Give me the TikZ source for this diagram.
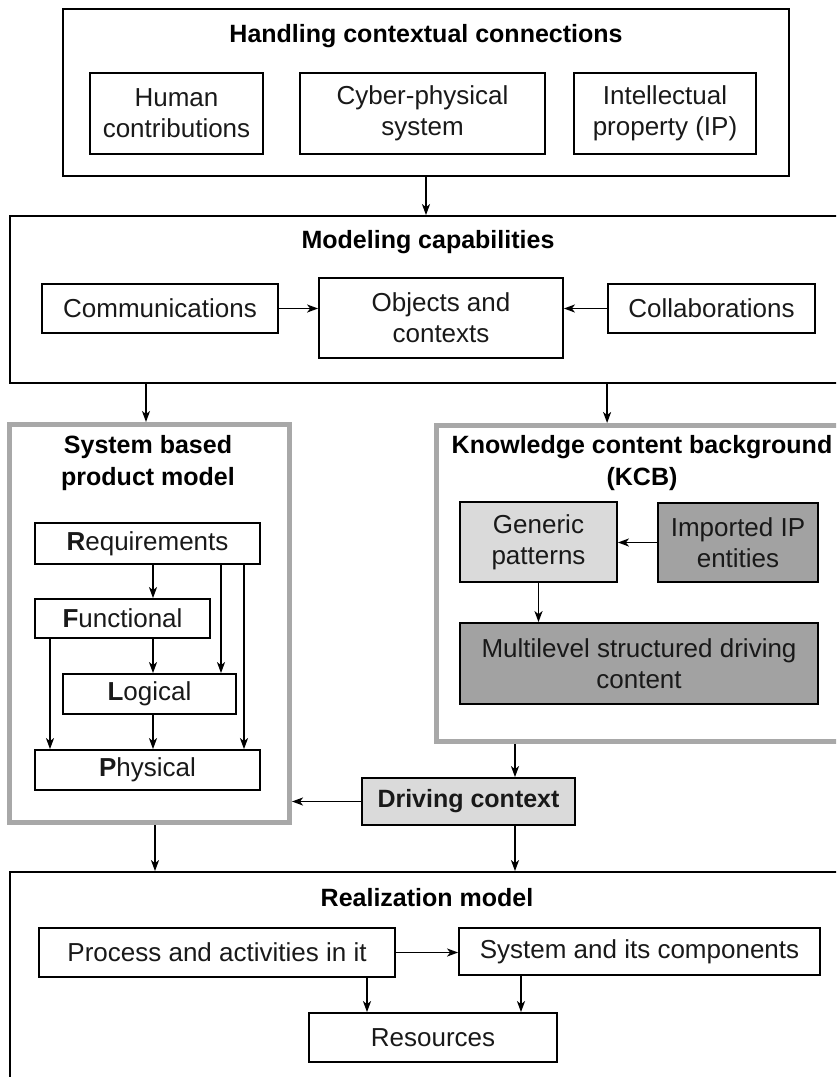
\documentclass[tikz,border=0pt]{standalone}
\usepackage{fontspec}
\setmainfont{Liberation Sans}
\usetikzlibrary{arrows.meta}
\definecolor{frame}{RGB}{168,168,168}
\definecolor{lightfill}{RGB}{218,218,218}
\definecolor{darkfill}{RGB}{162,162,162}
\definecolor{ink}{RGB}{25,25,25}
\newcommand{\boxfont}{\fontsize{26}{31}\selectfont}
\newcommand{\headfont}{\fontsize{25}{32}\selectfont\bfseries}
\begin{document}
\begin{tikzpicture}[x=1pt,y=-1pt,
  box/.style={draw,line width=1.8pt,inner sep=0pt,align=center,font=\boxfont,text=ink},
  group/.style={draw=frame,line width=5pt,inner sep=0pt},
  panel/.style={draw,line width=1.8pt,inner sep=0pt},
  head/.style={font=\headfont,align=center,anchor=base,inner sep=0pt},
  lightbox/.style={box,fill=lightfill},
  darkbox/.style={box,fill=darkfill},
  arr/.style={-{Stealth[length=11pt,width=8pt,inset=3pt]},line width=1.6pt}]
\useasboundingbox (0,0) rectangle (836,1077);
\clip (0,0) rectangle (836,1077);

% --- Handling contextual connections
\node[panel,minimum width=726pt,minimum height=167pt] (hcc) at (426,92.5) {};
\node[head] (hcctitle) at (426,42) {Handling contextual connections};
\node[box,minimum width=173pt,minimum height=81pt] (human) at (176.5,113.5) {Human\\contributions};
\node[box,minimum width=245pt,minimum height=81pt] (cps) at (422.5,113.5) {Cyber-physical\\system};
\node[box,minimum width=182pt,minimum height=81pt] (ipr) at (665,113.5) {Intellectual\\property (IP)};

% --- Modeling capabilities
\node[panel,minimum width=836pt,minimum height=167pt] (mod) at (428,299.5) {};
\node[head] (modtitle) at (428,248) {Modeling capabilities};
\node[box,minimum width=236pt,minimum height=49pt] (comm) at (160,308.5) {Communications};
\node[box,minimum width=244pt,minimum height=80pt] (obj) at (441,318) {Objects and\\contexts};
\node[box,minimum width=207pt,minimum height=49pt] (collab) at (711.5,308.5) {Collaborations};

% --- System based product model (title anchored on its last line)
\node[group,minimum width=280pt,minimum height=398pt] (sbpm) at (149.5,623.5) {};
\node[head] (sbpmtitle) at (148,485) {System based\\product model};
\node[box,minimum width=225pt,minimum height=41pt] (req) at (147.5,543.5) {\textbf{R}equirements};
\node[box,minimum width=175pt,minimum height=39pt] (func) at (122.5,618.5) {\textbf{F}unctional};
\node[box,minimum width=173pt,minimum height=40pt] (logic) at (149.5,694) {\textbf{L}ogical};
\node[box,minimum width=225pt,minimum height=40pt] (phys) at (147.5,770) {\textbf{P}hysical};

% --- Knowledge content background
\node[group,minimum width=411pt,minimum height=316pt] (kcb) at (642,583.5) {};
\node[head] (kcbtitle) at (642,485) {Knowledge content background\\(KCB)};
\node[lightbox,minimum width=157pt,minimum height=80pt] (gen) at (538.5,542) {Generic\\patterns};
\node[darkbox,minimum width=160pt,minimum height=79pt] (imp) at (738,542.5) {Imported IP\\entities};
\node[darkbox,minimum width=358pt,minimum height=81pt] (multi) at (639,663.5) {Multilevel structured driving\\content};

% --- Driving context
\node[lightbox,font=\headfont,minimum width=213pt,minimum height=47pt] (drv) at (468.5,801.5) {Driving context};

% --- Realization model
\node[panel,minimum width=834pt,minimum height=228pt] (real) at (427,986) {};
\node[head] (realtitle) at (427,906) {Realization model};
\node[box,minimum width=356pt,minimum height=49pt] (proc) at (217,952.5) {Process and activities in it};
\node[box,minimum width=361pt,minimum height=47pt] (sys) at (639.5,951.5) {System and its components};
\node[box,minimum width=248pt,minimum height=49pt] (res) at (433,1037.5) {Resources};

% connector columns
\coordinate (cA) at (153,0);
\coordinate (cB) at (221,0);
\coordinate (cC) at (244,0);
\coordinate (cD) at (50,0);
\coordinate (cE) at (515,0);
\coordinate (cF) at (155,0);
\coordinate (cG) at (146,0);
\coordinate (cH) at (367,0);
\coordinate (cI) at (521,0);

% connectors
\draw[arr] (hcc.south) -- (hcc.south |- mod.north);
\draw[arr] (comm.east) -- (obj.west |- comm.east);
\draw[arr] (collab.west) -- (obj.east |- collab.west);
\draw[arr] (mod.south -| cG) -- (sbpm.north -| cG);
\draw[arr] (mod.south -| collab.west) -- (kcb.north -| collab.west);

\draw[arr] (req.south -| cA) -- (func.north -| cA);
\draw[arr] (req.south -| cB) -- (logic.north -| cB);
\draw[arr] (req.south -| cC) -- (phys.north -| cC);
\draw[arr] (func.south -| cA) -- (logic.north -| cA);
\draw[arr] (func.south -| cD) -- (phys.north -| cD);
\draw[arr] (logic.south -| cA) -- (phys.north -| cA);

\draw[arr] (imp.west) -- (gen.east |- imp.west);
\draw[arr] (gen.south) -- (gen.south |- multi.north);

\draw[arr] (kcb.south -| cE) -- (drv.north -| cE);
\draw[arr] (drv.west) -- (sbpm.east |- drv.west);
\draw[arr] (sbpm.south -| cF) -- (real.north -| cF);
\draw[arr] (drv.south -| cE) -- (real.north -| cE);

\draw[arr] (proc.east) -- (sys.west |- proc.east);
\draw[arr] (proc.south -| cH) -- (res.north -| cH);
\draw[arr] (sys.south -| cI) -- (res.north -| cI);
\end{tikzpicture}
\end{document}
